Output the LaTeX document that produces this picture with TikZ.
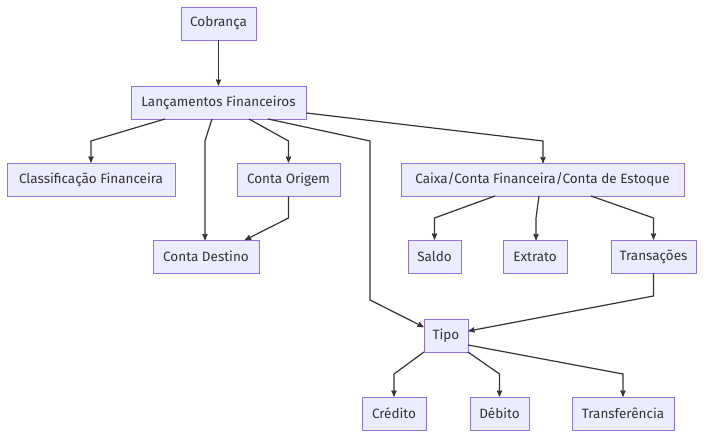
\documentclass[tikz,border=0pt]{standalone}
\usepackage{fontspec}
\setmainfont{Fira Sans}
\usepackage{tikz}
\usetikzlibrary{arrows}

\definecolor{caixafundo}{HTML}{ECECFF}
\definecolor{caixaborda}{HTML}{9370DB}
\definecolor{linha}{HTML}{333333}

\tikzset{
    entidade/.style = {draw = caixaborda, fill = caixafundo, line width = 0.9pt, text = linha, minimum height = 33pt, inner sep = 0pt, align = center, font = \fontsize{13.5}{15}\selectfont},
    seta/.style = {->, >=stealth', draw = linha, line width = 1.2pt}
}

\begin{document}
\begin{tikzpicture}[x = 1pt, y = -1pt]
        \useasboundingbox (0,0) rectangle (704,438);

        \node[entidade, minimum width = 75pt] (cobranca) at (218.5, 23.5){Cobrança};
        \node[entidade, minimum width = 175pt] (lancamentos) at (218.5, 102.5){Lançamentos Financeiros};

        \node[entidade, minimum width = 168pt] (classificacao) at (91, 179.5){Classificação Financeira};
        \node[entidade, minimum width = 103pt] (origem) at (288.5, 179.5){Conta Origem};
        \node[entidade, minimum width = 106pt] (destino) at (206, 256.5){Conta Destino};
        \node[entidade, minimum width = 283pt] (caixa) at (542.5, 179.5){Caixa/Conta Financeira/Conta de Estoque};

        \node[entidade, minimum width = 53pt] (saldo) at (434.5, 256.5){Saldo};
        \node[entidade, minimum width = 64pt] (extrato) at (535, 256.5){Extrato};
        \node[entidade, minimum width = 85pt] (transacoes) at (653.5, 256.5){Transações};

        \node[entidade, minimum width = 44pt] (tipo) at (446, 335.5){Tipo};

        \node[entidade, minimum width = 64pt] (credito) at (394, 413.5){Crédito};
        \node[entidade, minimum width = 59pt] (debito) at (499.5, 413.5){Débito};
        \node[entidade, minimum width = 102pt] (transferencia) at (623, 413.5){Transferência};

        \draw[seta] (cobranca) -- (lancamentos);

        \draw[seta] (165, 119) -- (91, 141) -- (classificacao);
        \draw[seta] (212, 119) -- (205, 141) -- (205, 240);
        \draw[seta] (249, 119) -- (288.5, 141) -- (origem);
        \draw[seta] (lancamentos.east |- 0, 113) -- (543, 141) -- (543, 163);
        \draw[seta] (268, 119) -- (370, 141) -- (370, 300) -- (tipo.west |- 0, 327);

        \draw[seta] (origem) -- (288.5, 218) -- (245, 240);

        \draw[seta] (495, 196) -- (434.5, 218) -- (saldo);
        \draw[seta] (539, 196) -- (536, 218) -- (536, 240);
        \draw[seta] (591, 196) -- (653.5, 218) -- (transacoes);

        \draw[seta] (transacoes) -- (653.5, 296) -- (tipo.east |- 0, 331);

        \draw[seta] (424, 352) -- (394, 374) -- (credito);
        \draw[seta] (468, 352) -- (499.5, 374) -- (debito);
        \draw[seta] (468, 345) -- (623, 374) -- (transferencia);
\end{tikzpicture}
\end{document}
